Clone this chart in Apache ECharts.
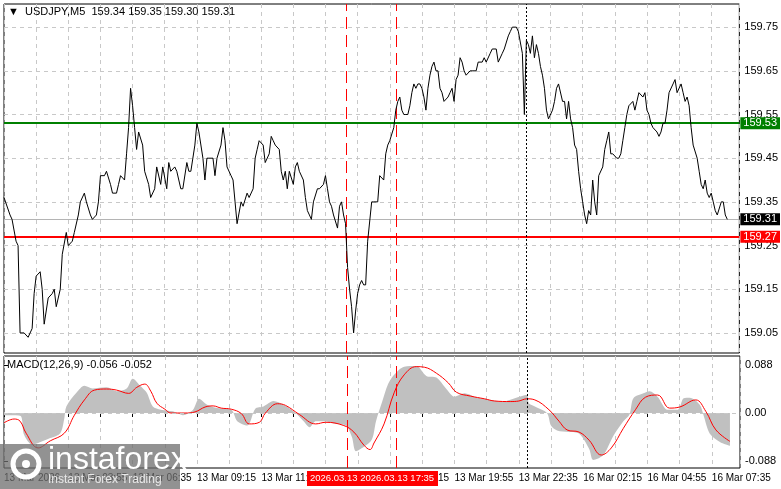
<!DOCTYPE html>
<html><head><meta charset="utf-8">
<script src="https://cdn.jsdelivr.net/npm/echarts@6/dist/echarts.min.js"></script>
<style>html,body{margin:0;padding:0;background:#fff}#c{width:781px;height:489px}</style>
</head><body><div id="c"></div>
<script>
// [bar index (5-min bars), close]
const priceData = [[0,159.36],[3,159.32],[4,159.31],[6,159.26],[7,159.25],[8,159.05],[10,159.05],[12,159.04],[14,159.06],[15,159.14],[16,159.18],[18,159.19],[19,159.15],[20,159.07],[22,159.13],[24,159.14],[25,159.15],[26,159.11],[28,159.15],[29,159.23],[31,159.28],[32,159.25],[34,159.26],[35,159.28],[37,159.32],[38,159.35],[40,159.37],[41,159.35],[43,159.32],[44,159.31],[46,159.32],[47,159.35],[48,159.41],[50,159.41],[51,159.42],[53,159.39],[54,159.37],[56,159.37],[57,159.39],[58,159.41],[60,159.40],[61,159.46],[62,159.52],[63,159.61],[64,159.57],[65,159.52],[66,159.47],[67,159.51],[69,159.48],[70,159.42],[72,159.39],[73,159.36],[75,159.38],[76,159.43],[78,159.39],[79,159.43],[81,159.38],[82,159.44],[83,159.42],[85,159.43],[86,159.42],[88,159.38],[89,159.38],[91,159.44],[92,159.42],[93,159.42],[95,159.48],[96,159.53],[97,159.51],[99,159.45],[100,159.40],[101,159.45],[102,159.45],[104,159.45],[105,159.41],[106,159.45],[108,159.48],[109,159.52],[110,159.49],[111,159.43],[113,159.41],[114,159.40],[115,159.35],[116,159.30],[118,159.35],[119,159.34],[121,159.37],[122,159.36],[124,159.38],[125,159.45],[126,159.47],[127,159.49],[129,159.48],[130,159.44],[132,159.46],[133,159.50],[134,159.49],[135,159.48],[137,159.47],[138,159.42],[139,159.40],[140,159.42],[141,159.38],[142,159.42],[144,159.39],[145,159.43],[146,159.44],[147,159.42],[149,159.40],[150,159.36],[151,159.33],[152,159.32],[153,159.31],[154,159.35],[156,159.38],[157,159.38],[159,159.39],[160,159.41],[161,159.38],[162,159.35],[163,159.34],[164,159.32],[166,159.29],[167,159.34],[168,159.35],[169,159.32],[170,159.30],[171,159.20],[172,159.15],[173,159.11],[174,159.05],[175,159.10],[176,159.14],[177,159.16],[178,159.17],[179,159.16],[180,159.16],[181,159.26],[183,159.35],[184,159.35],[186,159.35],[187,159.41],[189,159.40],[190,159.46],[191,159.48],[192,159.49],[194,159.52],[195,159.56],[196,159.58],[197,159.59],[198,159.56],[199,159.55],[200,159.55],[201,159.55],[202,159.57],[203,159.60],[204,159.62],[205,159.61],[206,159.62],[207,159.62],[208,159.61],[209,159.59],[210,159.56],[211,159.61],[212,159.64],[213,159.66],[214,159.67],[215,159.65],[216,159.65],[217,159.61],[218,159.60],[219,159.58],[221,159.59],[222,159.60],[223,159.61],[224,159.58],[225,159.63],[226,159.64],[227,159.68],[228,159.67],[229,159.65],[230,159.64],[232,159.65],[233,159.65],[235,159.65],[236,159.67],[238,159.67],[239,159.68],[240,159.67],[242,159.69],[243,159.70],[245,159.70],[246,159.67],[248,159.69],[249,159.70],[251,159.73],[252,159.74],[253,159.75],[255,159.75],[256,159.74],[258,159.69],[259,159.55],[260,159.72],[261,159.71],[262,159.69],[263,159.73],[264,159.68],[265,159.71],[266,159.69],[267,159.66],[268,159.64],[269,159.61],[270,159.56],[271,159.54],[273,159.56],[274,159.58],[275,159.61],[276,159.62],[278,159.58],[279,159.58],[280,159.54],[281,159.58],[282,159.54],[283,159.52],[284,159.48],[285,159.47],[286,159.42],[287,159.38],[288,159.35],[289,159.32],[290,159.30],[291,159.33],[292,159.32],[293,159.40],[294,159.35],[295,159.32],[296,159.41],[298,159.43],[299,159.47],[300,159.49],[301,159.51],[302,159.46],[303,159.46],[305,159.45],[306,159.45],[307,159.46],[308,159.49],[309,159.52],[310,159.55],[311,159.57],[313,159.58],[314,159.56],[315,159.58],[316,159.60],[318,159.59],[319,159.60],[320,159.56],[321,159.55],[322,159.53],[323,159.52],[325,159.51],[326,159.50],[327,159.51],[328,159.53],[329,159.53],[330,159.56],[331,159.60],[333,159.62],[334,159.63],[335,159.60],[337,159.62],[338,159.60],[339,159.58],[340,159.59],[341,159.57],[342,159.52],[343,159.48],[345,159.45],[346,159.42],[347,159.39],[348,159.38],[349,159.40],[350,159.37],[351,159.36],[352,159.37],[353,159.35],[354,159.33],[355,159.32],[357,159.35],[358,159.35],[359,159.32],[360,159.31]];
const macdHist = [[0,-0.004],[8,-0.005],[10,-0.040],[14,-0.058],[17,-0.055],[23,-0.046],[28,-0.037],[30,-0.010],[31,0.012],[36,0.037],[40,0.050],[44,0.045],[51,0.047],[56,0.040],[61,0.045],[64,0.063],[68,0.049],[71,0.037],[74,0.012],[78,0.006],[84,0.003],[89,-0.004],[94,0.006],[97,0.026],[101,0.015],[106,0.009],[113,0.006],[116,-0.015],[121,-0.023],[125,0.008],[129,0.012],[134,0.022],[139,0.015],[144,0.003],[149,-0.015],[152,-0.026],[155,-0.015],[159,-0.015],[165,-0.020],[170,-0.023],[173,-0.044],[175,-0.070],[179,-0.062],[183,-0.048],[185,-0.015],[188,0.020],[191,0.053],[194,0.070],[199,0.085],[205,0.086],[210,0.068],[215,0.065],[220,0.044],[224,0.030],[229,0.036],[234,0.030],[242,0.024],[248,0.021],[254,0.027],[260,0.033],[261,0.018],[264,0.012],[270,0.000],[272,-0.023],[275,-0.032],[281,-0.035],[286,-0.038],[291,-0.066],[293,-0.086],[298,-0.077],[303,-0.042],[308,-0.015],[311,-0.003],[313,0.027],[318,0.036],[321,0.040],[325,0.030],[330,0.006],[335,0.006],[338,0.027],[341,0.028],[346,0.015],[348,-0.006],[351,-0.038],[356,-0.053],[361,-0.060]];
const macdSignal = [[0,-0.018],[5,-0.011],[8,-0.015],[11,-0.037],[17,-0.064],[23,-0.051],[30,-0.037],[35,-0.004],[40,0.024],[45,0.042],[51,0.044],[56,0.042],[62,0.036],[66,0.047],[70,0.053],[73,0.040],[76,0.018],[80,0.007],[83,0.000],[90,0.000],[95,0.002],[100,0.011],[104,0.013],[108,0.009],[113,0.007],[118,-0.001],[122,-0.020],[127,-0.017],[130,0.000],[136,0.017],[140,0.014],[147,-0.003],[155,-0.020],[160,-0.017],[169,-0.023],[174,-0.035],[179,-0.059],[182,-0.067],[184,-0.055],[189,-0.020],[194,0.037],[199,0.070],[205,0.085],[209,0.084],[215,0.073],[221,0.055],[225,0.038],[232,0.031],[239,0.026],[244,0.022],[252,0.021],[256,0.022],[260,0.026],[264,0.024],[271,0.006],[276,-0.015],[280,-0.031],[286,-0.035],[291,-0.050],[297,-0.077],[302,-0.064],[308,-0.028],[314,0.006],[319,0.029],[325,0.033],[331,0.009],[336,0.011],[344,0.024],[349,0.003],[354,-0.031],[361,-0.052]];
const priceTicks = [159.05,159.15,159.25,159.35,159.45,159.55,159.65,159.75];
const macdTicks = [0.088,0,-0.088];
const macdTickLabels = ['0.088','0.00','-0.088'];
const xTickLabels = ['13 Mar 2026','13 Mar 03:55','13 Mar 06:35','13 Mar 09:15','13 Mar 11:55','13 Mar 14:35','13 Mar 17:15','13 Mar 19:55','13 Mar 22:35','16 Mar 02:15','16 Mar 04:55','16 Mar 07:35'];
const levels = {resistance:159.53, support:159.27, last:159.31};
const vLinesRed = [170.5, 195];
const vLineBlack = 260;
const header = '▼  USDJPY,M5  159.34 159.35 159.30 159.31';
const macdHeader = 'MACD(12,26,9) -0.056 -0.052';
const cursorLabel = '2026.03.13 2026.03.13 17:35';

const F = 'Liberation Sans';
const chart = echarts.init(document.getElementById('c'));
const dashGrid = {show:true,lineStyle:{color:'#c8c8c8',type:[4,4],width:1}};
chart.setOption({
  animation:false,
  grid:[
    {left:4,right:41,top:4,height:349,show:true,borderColor:'#000',borderWidth:1,backgroundColor:'#fff'},
    {left:4,right:41,top:356,height:112,show:true,borderColor:'#000',borderWidth:1}
  ],
  xAxis:[
    {type:'value',gridIndex:0,min:0,max:366,interval:16,axisLine:{show:false},axisTick:{show:false},axisLabel:{show:false},splitLine:dashGrid},
    {type:'value',gridIndex:1,min:0,max:366,interval:16,axisLine:{show:false},axisTick:{show:true,lineStyle:{color:'#000'},length:4,interval:0},
     axisLabel:{show:true,align:'left',margin:5,fontFamily:F,fontSize:10,color:'#000',showMaxLabel:false,
       formatter:v=> (v%32===0 && xTickLabels[v/32]) ? xTickLabels[v/32] : ''},splitLine:dashGrid}
  ],
  yAxis:[
    {type:'value',gridIndex:0,position:'right',min:159.004,max:159.803,axisLine:{show:false},
     axisTick:{show:true,customValues:priceTicks,length:4,lineStyle:{color:'#000'}},
     axisLabel:{customValues:priceTicks,formatter:v=>v.toFixed(2),fontFamily:F,fontSize:11,color:'#000',margin:5},splitLine:{show:false}},
    {type:'value',gridIndex:1,position:'right',min:-0.1008,max:0.1045,axisLine:{show:false},
     axisTick:{show:true,customValues:macdTicks,length:4,lineStyle:{color:'#000'}},
     axisLabel:{customValues:macdTicks,formatter:v=>macdTickLabels[macdTicks.indexOf(Math.round(v*1000)/1000)]||'',fontFamily:F,fontSize:11,color:'#000',margin:5},splitLine:{show:false}}
  ],
  series:[
    {type:'line',xAxisIndex:0,yAxisIndex:0,data:priceData,symbol:'none',lineStyle:{color:'#000',width:1},z:5,
     markLine:{silent:true,symbol:'none',animation:false,data:[
       ...priceTicks.map(v=>({yAxis:v,lineStyle:{color:'#c8c8c8',type:[4,4],width:1},label:{show:false}})),
       {yAxis:levels.last,lineStyle:{color:'#b4b4b4',type:'solid',width:1},label:{show:true,position:'end',formatter:levels.last.toFixed(2),color:'#fff',backgroundColor:'#000',padding:[1,3,0,3],fontFamily:F,fontSize:11,distance:1}},
       {yAxis:levels.resistance,lineStyle:{color:'#008000',type:'solid',width:2},label:{show:true,position:'end',formatter:levels.resistance.toFixed(2),color:'#fff',backgroundColor:'#008000',padding:[1,3,0,3],fontFamily:F,fontSize:11,distance:1}},
       {yAxis:levels.support,lineStyle:{color:'#ff0000',type:'solid',width:2},label:{show:true,position:'end',formatter:levels.support.toFixed(2),color:'#fff',backgroundColor:'#ff0000',padding:[1,3,0,3],fontFamily:F,fontSize:11,distance:1}},
       ...vLinesRed.map(v=>({xAxis:v,lineStyle:{color:'#ff0000',type:[12,6],width:1},label:{show:false}})),
       {xAxis:vLineBlack,lineStyle:{color:'#000',type:[2,2],width:1},label:{show:false}}
     ]}},
    {type:'line',xAxisIndex:1,yAxisIndex:1,data:macdHist,smooth:0.3,symbol:'none',lineStyle:{width:0},areaStyle:{color:'#c0c0c0',opacity:1},z:2,
     markLine:{silent:true,symbol:'none',animation:false,data:[
       {yAxis:0,lineStyle:{color:'#c8c8c8',type:[4,4],width:1},label:{show:false}},
       ...vLinesRed.map(v=>({xAxis:v,lineStyle:{color:'#ff0000',type:[12,6],width:1},label:{show:false}})),
       {xAxis:vLineBlack,lineStyle:{color:'#000',type:[2,2],width:1},label:{show:false}}
     ]}},
    {type:'line',xAxisIndex:1,yAxisIndex:1,data:macdSignal,smooth:0.4,symbol:'none',lineStyle:{color:'#ff0000',width:1},z:4}
  ],
  graphic:[
    {type:'text',left:8,top:6,z:10,style:{text:header,font:'11px "Liberation Sans"',fill:'#000'}},
    {type:'text',left:7,top:359,z:10,style:{text:macdHeader,font:'11px "Liberation Sans"',fill:'#000'}},
    {type:'rect',shape:{x:307,y:471,width:131,height:15},z:20,style:{fill:'#ff0000'}},
    {type:'text',x:310,y:473,z:21,style:{text:cursorLabel,font:'9.5px "Liberation Sans"',fill:'#fff'}},
    {type:'rect',shape:{x:0,y:444,width:180,height:45},z:30,style:{fill:'rgba(110,110,110,0.75)'}},
    {type:'text',x:48,y:444,z:31,style:{text:'instaforex',font:'32px "Liberation Sans"',fill:'#fff'}},
    {type:'text',x:48,y:474,z:31,style:{text:'Instant Forex Trading',font:'12px "Liberation Sans"',fill:'#e8e8e8'}},
    {type:'circle',shape:{cx:26,cy:464,r:13},z:31,style:{fill:'none',stroke:'#fff',lineWidth:5}},
    {type:'circle',shape:{cx:26,cy:464,r:4},z:31,style:{fill:'#fff'}}
  ]
});
</script></body></html>
